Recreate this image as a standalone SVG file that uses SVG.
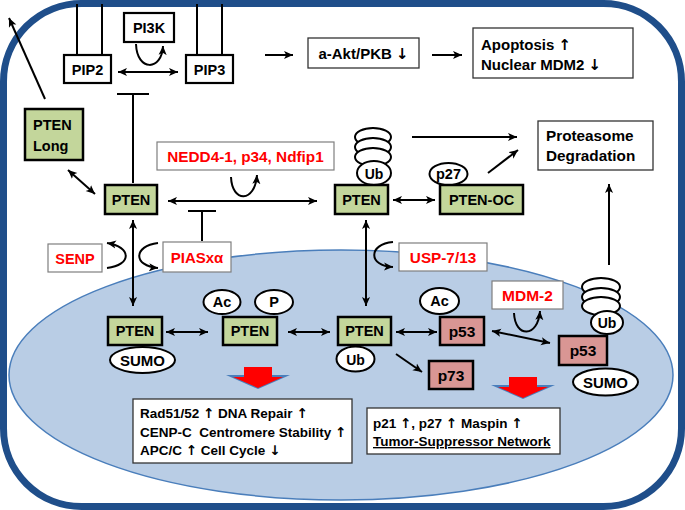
<svg xmlns="http://www.w3.org/2000/svg" width="685" height="510" viewBox="0 0 685 510">
<defs>
<marker id="a" viewBox="0 0 10 10" refX="10" refY="5" markerWidth="9" markerHeight="9" markerUnits="userSpaceOnUse" orient="auto-start-reverse">
<path d="M0,0.5 L10,5 L0,9.5 L2.5,5 z" fill="#000"/>
</marker>
<style>
.t{font-family:"Liberation Sans",Arial,sans-serif;font-weight:bold;fill:#000}
.ar{font-family:"DejaVu Sans",sans-serif;font-weight:bold}
.c{text-anchor:middle}
.red{fill:#ff0000}
.g{fill:#c3d69b;stroke:#000;stroke-width:2.5}
.pk{fill:#d99694;stroke:#000;stroke-width:2.5}
.wb{fill:#fff;stroke:#000;stroke-width:2.2}
.wt{fill:#fff;stroke:#7f7f7f;stroke-width:1.2}
.wr{fill:#fff;stroke:#333;stroke-width:1.3}
.el{fill:#fff;stroke:#000;stroke-width:2}
.ln{fill:none;stroke:#000;stroke-width:2}
.e{marker-end:url(#a)}
.d{marker-start:url(#a);marker-end:url(#a)}
</style>
</defs>
<rect x="0" y="0" width="685" height="510" fill="#fff"/>
<rect id="cell" x="3.5" y="3.5" width="678" height="503" rx="78" ry="78" fill="#fff" stroke="#1f4e8a" stroke-width="7"/>
<ellipse id="nucleus" cx="341" cy="375" rx="332" ry="125" fill="#b9cde5" stroke="#4a7ebb" stroke-width="1.5"/>

<g id="connectors" class="ln">
<path d="M77,4 V55 M102,4 V55 M197,4 V55 M222,4 V55"/>
<path class="d" d="M118,72 H178"/>
<path class="e" d="M136,44 C137,72 162,71 163,46"/>
<path class="e" d="M265,55 H293"/>
<path class="e" d="M432,55 H462"/>
<path class="e" d="M45,99 L9,18"/>
<path d="M133,183 V94 M117,94 H149"/>
<path class="d" d="M68,170 L95,194"/>
<path class="d" d="M168,201 H317"/>
<path class="e" d="M231,177 C232,203 255,203 257,175"/>
<path d="M202,241 V211 M188,211 H216"/>
<path class="d" d="M133,220 V306"/>
<path class="e" d="M107,268 C132,265 132,247 107,243"/>
<path class="e" d="M158,243 C133,246 133,266 158,268"/>
<path class="e" d="M412,137 H517"/>
<path class="d" d="M393,200 H435"/>
<path class="e" d="M488,173 L518,150"/>
<path class="d" d="M366,220 V306"/>
<path class="e" d="M393,242 C368,244 368,266 393,267"/>
<path class="e" d="M609,265 V184"/>
<path class="d" d="M166,332 H208"/>
<path class="d" d="M288,332 H330"/>
<path class="d" d="M396,332 H437"/>
<path class="d" d="M492,331 L550,343"/>
<path class="e" d="M514,313 C515,338 538,338 540,311"/>
<path class="e" d="M396,354 L422,372"/>
</g>

<g id="pip2"><rect class="wb" x="64" y="55" width="47" height="28"/><text class="t c" x="87.5" y="74.5" font-size="14.5">PIP2</text></g>
<g id="pip3"><rect class="wb" x="186" y="55" width="47" height="28"/><text class="t c" x="209.5" y="74.5" font-size="14.5">PIP3</text></g>
<g id="pi3k"><rect class="wb" x="124" y="13" width="50" height="29"/><text class="t c" x="149" y="33" font-size="14.5">PI3K</text></g>
<g id="akt"><rect class="wr" x="308" y="38" width="111" height="30"/><text class="t c" x="363.5" y="59" font-size="15">a-Akt/PKB <tspan class="ar">↓</tspan></text></g>
<g id="apoptosis"><rect class="wr" x="473" y="28" width="160" height="50"/><text class="t" x="481" y="50" font-size="15">Apoptosis <tspan class="ar">↑</tspan></text><text class="t" x="481" y="70" font-size="15">Nuclear MDM2 <tspan class="ar">↓</tspan></text></g>
<g id="pten-long"><rect class="g" x="25" y="109" width="58" height="51"/><text class="t" x="33" y="130" font-size="14.5">PTEN</text><text class="t" x="33" y="151" font-size="14.5">Long</text></g>
<g id="proteasome"><rect class="wr" x="538" y="121" width="115" height="49"/><text class="t" x="546" y="141" font-size="15.3">Proteasome</text><text class="t" x="546" y="161" font-size="15.3">Degradation</text></g>
<g id="nedd4"><rect class="wt" x="157" y="142" width="177" height="28"/><text class="t c red" x="245.5" y="162" font-size="15.3">NEDD4-1, p34, Ndfip1</text></g>
<g id="pten-a"><rect class="g" x="105" y="185" width="52" height="29"/><text class="t c" x="131" y="204.5" font-size="14.5">PTEN</text></g>
<g id="pten-b">
<ellipse class="el" cx="373" cy="137" rx="18" ry="9"/>
<ellipse class="el" cx="373" cy="147" rx="18" ry="9"/>
<ellipse class="el" cx="373" cy="157" rx="18" ry="9"/>
<ellipse class="el" cx="374" cy="173" rx="17" ry="12"/>
<text class="t c" x="374" y="178.5" font-size="14">Ub</text>
<rect class="g" x="335" y="185" width="53" height="29"/><text class="t c" x="361.5" y="204.5" font-size="14.5">PTEN</text></g>
<g id="pten-oc"><ellipse class="el" cx="448.5" cy="174" rx="19" ry="11"/><text class="t c" x="448.5" y="179" font-size="14.5">p27</text>
<rect class="g" x="440" y="185" width="83" height="29"/><text class="t c" x="481.5" y="204.5" font-size="14.5">PTEN-OC</text></g>
<g id="senp"><rect class="wt" x="48" y="244" width="54" height="28"/><text class="t c red" x="75" y="263.5" font-size="14.5">SENP</text></g>
<g id="pias"><rect class="wt" x="163" y="242" width="68" height="30"/><text class="t c red" x="197" y="262.5" font-size="15">PIASxα</text></g>
<g id="usp"><rect class="wt" x="399" y="243" width="88" height="28"/><text class="t c red" x="443" y="262.5" font-size="15.3">USP-7/13</text></g>
<g id="mdm2"><rect class="wt" x="492" y="281" width="71" height="28"/><text class="t c red" x="527.5" y="300.5" font-size="15.5">MDM-2</text></g>
<g id="pten-sumo"><rect class="g" x="108" y="317" width="54" height="28"/><text class="t c" x="135" y="336" font-size="14.5">PTEN</text>
<ellipse class="el" cx="142.5" cy="360" rx="32.5" ry="13"/><text class="t c" x="142.5" y="365.5" font-size="15">SUMO</text></g>
<g id="pten-acp"><ellipse class="el" cx="222" cy="302" rx="18.5" ry="12"/><text class="t c" x="222" y="307" font-size="14.5">Ac</text>
<ellipse class="el" cx="274" cy="302" rx="19" ry="12"/><text class="t c" x="274" y="307" font-size="14.5">P</text>
<rect class="g" x="223" y="317" width="54" height="28"/><text class="t c" x="250" y="336" font-size="14.5">PTEN</text></g>
<g id="pten-ub"><rect class="g" x="338" y="317" width="53" height="28"/><text class="t c" x="364.5" y="336" font-size="14.5">PTEN</text>
<ellipse class="el" cx="355.5" cy="359" rx="19" ry="12.5"/><text class="t c" x="355.5" y="364.5" font-size="14">Ub</text></g>
<g id="p53-ac"><ellipse class="el" cx="439.5" cy="301" rx="19.5" ry="13"/><text class="t c" x="439.5" y="306" font-size="14.5">Ac</text>
<rect class="pk" x="440" y="317" width="44" height="28"/><text class="t c" x="462" y="337" font-size="15.5">p53</text></g>
<g id="p73"><rect class="pk" x="429" y="361" width="44" height="28"/><text class="t c" x="451" y="381" font-size="15.5">p73</text></g>
<g id="p53-ub">
<ellipse class="el" cx="601" cy="287" rx="19" ry="9"/>
<ellipse class="el" cx="601" cy="297" rx="19" ry="9"/>
<ellipse class="el" cx="601" cy="306" rx="19" ry="9"/>
<ellipse class="el" cx="607" cy="322.5" rx="16" ry="11.5"/><text class="t c" x="607" y="328" font-size="14">Ub</text>
<rect class="pk" x="559" y="336" width="48" height="29"/><text class="t c" x="583" y="356" font-size="15.5">p53</text>
<ellipse class="el" cx="605.5" cy="382" rx="32.5" ry="13.5"/><text class="t c" x="605.5" y="387.5" font-size="15">SUMO</text></g>
<g id="arrow-1"><polygon points="226,375 290,375 258,389" fill="#4a7ebb"/><polygon points="244,367 272,367 272,377 283,377 258,388 233,377 244,377" fill="#ff0000"/></g>
<g id="arrow-2"><polygon points="491,385 555,385 523,399" fill="#4a7ebb"/><polygon points="509,377 537,377 537,387 548,387 523,398 498,387 509,387" fill="#ff0000"/></g>
<g id="result-left"><rect class="wr" x="133" y="399" width="219" height="64"/>
<text class="t" x="140" y="418" font-size="13.5">Rad51/52 <tspan class="ar">↑</tspan> DNA Repair <tspan class="ar">↑</tspan></text>
<text class="t" x="140" y="437" font-size="13.5">CENP-C&#160; Centromere Stability <tspan class="ar">↑</tspan></text>
<text class="t" x="140" y="455" font-size="13.5">APC/C <tspan class="ar">↑</tspan> Cell Cycle <tspan class="ar">↓</tspan></text></g>
<g id="result-right"><rect class="wr" x="367" y="408" width="193" height="46"/>
<text class="t" x="373" y="428" font-size="13.5">p21 <tspan class="ar">↑</tspan>, p27 <tspan class="ar">↑</tspan> Maspin <tspan class="ar">↑</tspan></text>
<text class="t" x="373" y="446" font-size="13.5" text-decoration="underline">Tumor-Suppressor Network</text></g>
</svg>
